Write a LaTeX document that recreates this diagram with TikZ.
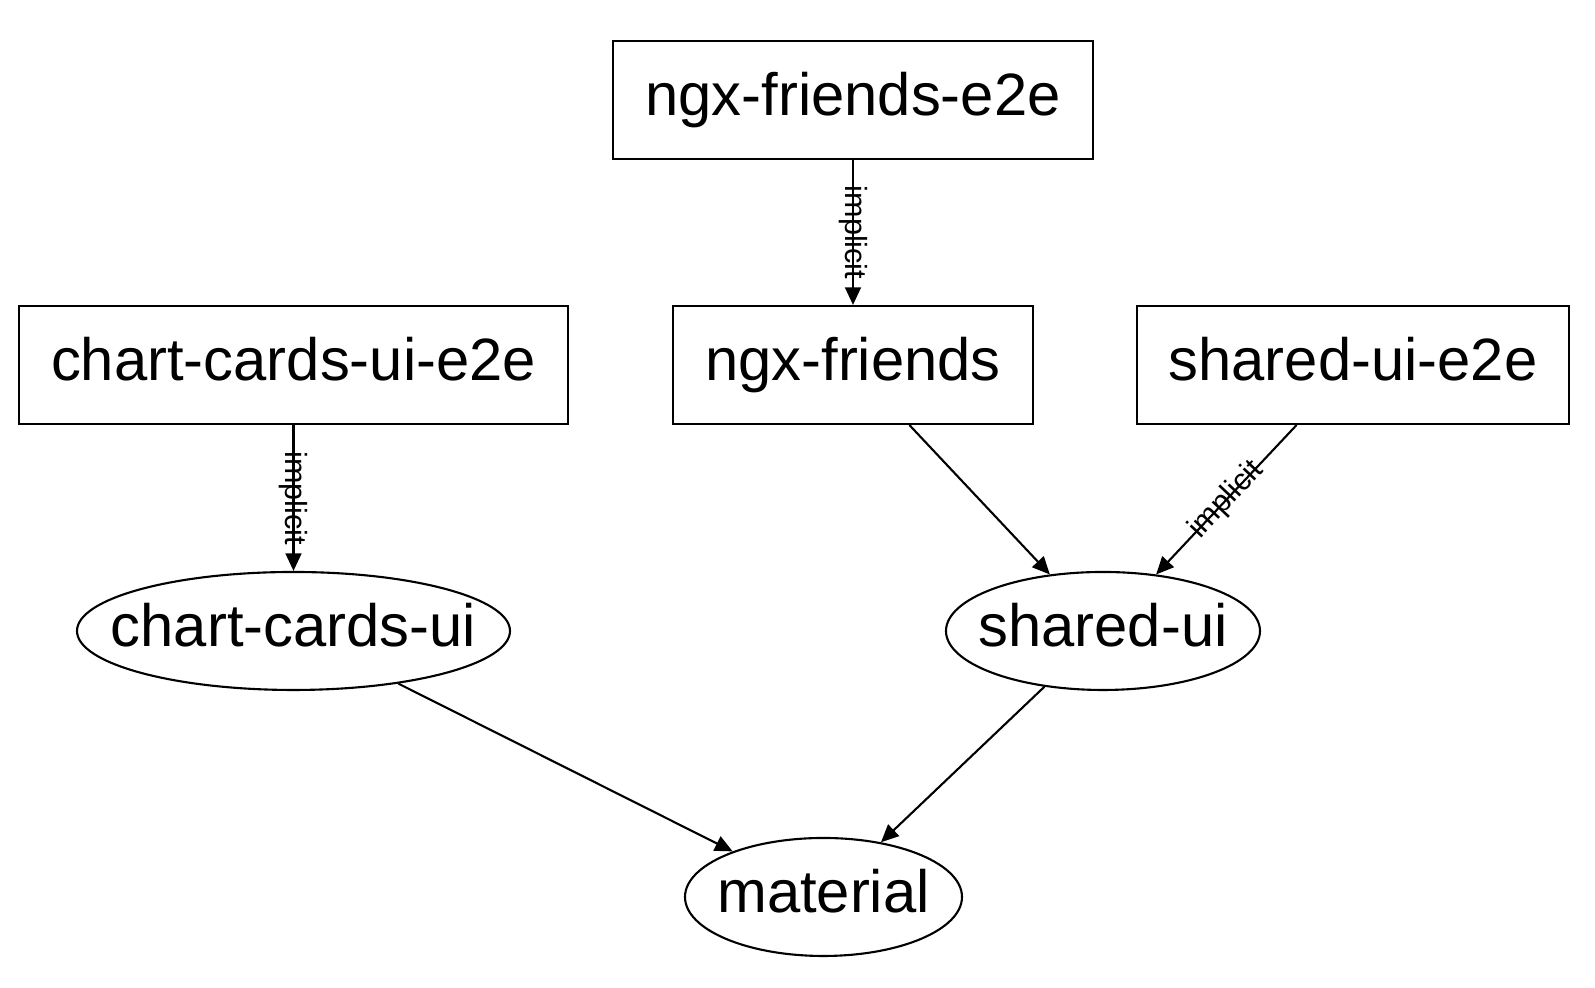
\documentclass[tikz,border=0pt]{standalone}
\usepackage{fontspec}
\setmainfont{Liberation Sans}
\usetikzlibrary{arrows.meta,shapes.geometric}
\newcommand{\nolen}[1]{\makebox[0pt]{#1}}
\begin{document}
\begin{tikzpicture}[line width=0.6pt,
        proj/.style={draw,rectangle,inner xsep=0.32cm,minimum height=1.18cm,text height=12.4pt,text depth=3.6pt,font=\fontsize{17}{20}\selectfont},
        lib/.style={draw,ellipse,inner sep=0pt,minimum height=1.18cm,text height=12.4pt,text depth=3.6pt,font=\fontsize{17}{20}\selectfont},
        dep/.style={-{Triangle[length=5pt,width=4.5pt]}},
        impl/.style={midway,sloped,inner sep=0pt,font=\fontsize{8.7}{10}\selectfont}]
        \useasboundingbox (0,0) rectangle (15.95,9.88);
        \node[proj] (nfe) at (8.53,8.88) {ngx-friends-e2e};
        \node[proj] (cce) at (2.935,6.23) {chart-cards-ui-e2e};
        \node[proj] (nf) at (8.53,6.23) {ngx-friends};
        \node[proj] (sue) at (13.53,6.23) {shared-ui-e2e};
        \node[lib,minimum width=4.33cm] (cc) at (2.935,3.57) {\nolen{chart-cards-ui}};
        \node[lib,minimum width=3.14cm] (su) at (11.03,3.57) {\nolen{shared-ui}};
        \node[lib,minimum width=2.77cm] (mat) at (8.235,0.91) {\nolen{material}};
        \draw[dep] (nfe) -- node[impl] {implicit} (nf);
        \draw[dep] (cce) -- node[impl] {implicit} (cc);
        \draw[dep] (sue) -- node[impl] {implicit} (su);
        \foreach \a/\b in {nf/su,cc/mat,su/mat}
        \draw[dep] (\a) -- (\b);
    \end{tikzpicture}
\end{document}
